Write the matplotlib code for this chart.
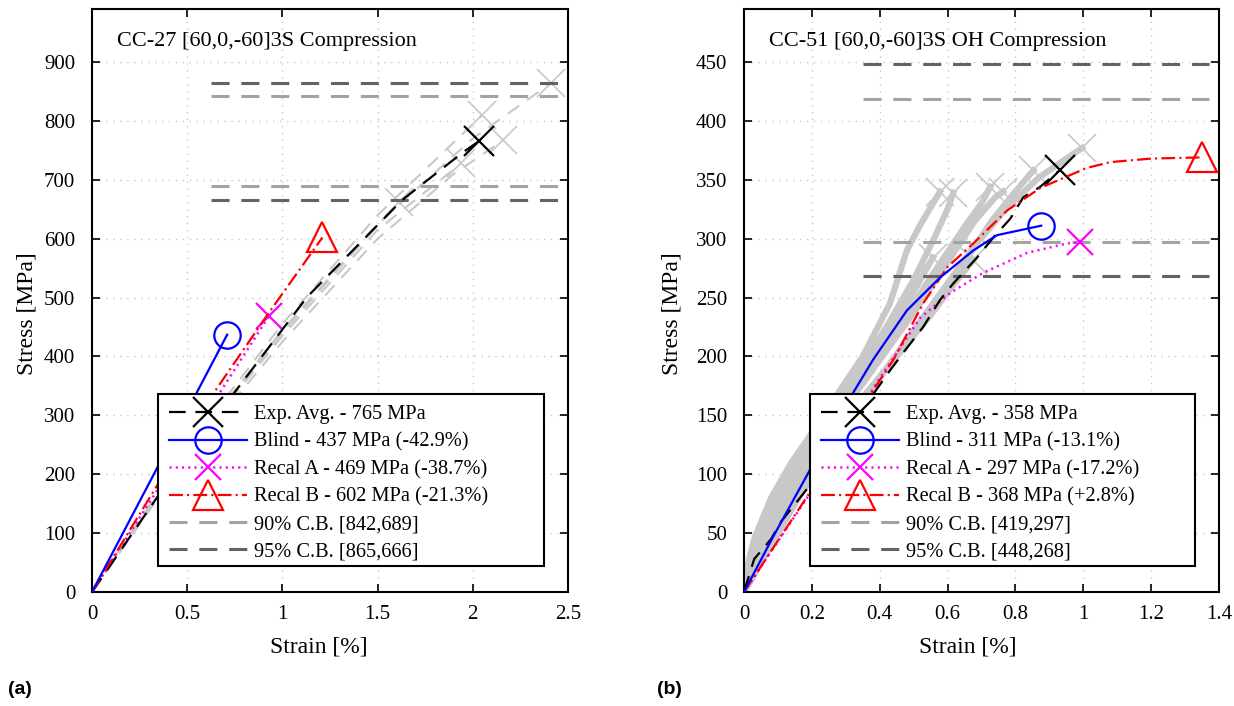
import matplotlib
matplotlib.use("Agg")
import matplotlib.pyplot as plt
from matplotlib.patches import Rectangle

plt.rcParams['font.family'] = ['Liberation Serif', 'DejaVu Serif']
plt.rcParams['font.size'] = 15
plt.rcParams['lines.scale_dashes'] = False

# ---------------- Panel (a) data: CC-27 ----------------
a_title = "CC-27 [60,0,-60]3S Compression"
a_exp_x = [0, 0.5, 0.73, 1.13, 1.63, 1.95, 2.03]
a_exp_y = [0, 235, 331, 501, 666, 747, 765]
a_blind_x = [0, 0.71]
a_blind_y = [0, 437]
a_recA_x = [0, 0.93]
a_recA_y = [0, 469]
a_recB_x = [0, 0.35, 0.65, 0.92, 1.21]
a_recB_y = [0, 185, 343, 470, 602]
a_spec_x = [
    [0, 0.5, 1.0, 1.3, 1.61],
    [0, 0.5, 1.0, 1.5, 1.94],
    [0, 0.5, 1.0, 1.5, 2.05],
    [0, 0.5, 1.0, 1.5, 1.9, 2.16],
    [0, 0.5, 1.0, 1.5, 2.0, 2.41],
]
a_spec_y = [
    [0, 240, 440, 550, 662],
    [0, 235, 435, 615, 728],
    [0, 245, 455, 640, 810],
    [0, 230, 425, 600, 710, 767],
    [0, 240, 445, 625, 770, 864],
]
a_cb90 = [842, 689]
a_cb95 = [865, 666]
a_labels = ["Exp. Avg. - 765 MPa", "Blind - 437 MPa (-42.9%)",
            "Recal A - 469 MPa (-38.7%)", "Recal B - 602 MPa (-21.3%)",
            "90% C.B. [842,689]", "95% C.B. [865,666]"]
a_xlim = (0, 2.5)
a_ylim = (0, 990)
a_xticks = [0, 0.5, 1, 1.5, 2, 2.5]
a_xticklabels = ["0", "0.5", "1", "1.5", "2", "2.5"]
a_yticks = [0, 100, 200, 300, 400, 500, 600, 700, 800, 900]

# ---------------- Panel (b) data: CC-51 ----------------
b_title = "CC-51 [60,0,-60]3S OH Compression"
b_exp_x = [0, 0.03, 0.08, 0.11, 0.19, 0.3, 0.43, 0.469, 0.528, 0.578, 0.617,
           0.687, 0.735, 0.785, 0.823, 0.873, 0.93]
b_exp_y = [0, 28, 45, 60, 89, 135, 188, 203, 225, 248, 262,
           284, 301, 317, 335, 344, 358]
b_blind_x = [0, 0.086, 0.195, 0.313, 0.38, 0.48, 0.578, 0.676, 0.746, 0.876]
b_blind_y = [0, 47, 104, 165, 197, 239, 267, 290, 303, 311]
b_recA_x = [0, 0.186, 0.39, 0.52, 0.608, 0.705, 0.835, 0.953, 0.99]
b_recA_y = [0, 80, 177, 233, 254, 271, 288, 296, 297]
b_recB_x = [0, 0.186, 0.38, 0.44, 0.528, 0.6, 0.676, 0.776, 0.873, 1.01, 1.08, 1.2, 1.35]
b_recB_y = [0, 81, 171, 197, 245, 276, 296, 324, 343, 360, 365, 368, 369]
b_spec_x = [
    [0, 0.01, 0.03, 0.08, 0.14, 0.2, 0.28, 0.35, 0.43, 0.48, 0.52, 0.578],
    [0, 0.04, 0.1, 0.17, 0.25, 0.33, 0.42, 0.5, 0.56, 0.6, 0.617],
    [0, 0.05, 0.12, 0.2, 0.3, 0.4, 0.5, 0.58, 0.65, 0.7, 0.726],
    [0, 0.06, 0.13, 0.22, 0.32, 0.42, 0.52, 0.6, 0.68, 0.74, 0.764],
    [0, 0.07, 0.15, 0.25, 0.35, 0.45, 0.55, 0.65, 0.73, 0.8, 0.853],
    [0, 0.08, 0.16, 0.26, 0.37, 0.47, 0.57, 0.67, 0.77, 0.87, 0.95, 0.997],
    [0, 0.05, 0.12, 0.2, 0.3, 0.4, 0.48, 0.557],
    [0, 0.07, 0.15, 0.25, 0.35, 0.45, 0.55, 0.62, 0.676],
]
b_spec_y = [
    [0, 22, 45, 80, 110, 135, 170, 200, 245, 290, 312, 340],
    [0, 40, 80, 115, 150, 185, 225, 265, 300, 325, 339],
    [0, 35, 80, 120, 165, 205, 245, 280, 310, 330, 344],
    [0, 35, 75, 120, 165, 205, 245, 280, 315, 335, 340],
    [0, 35, 75, 125, 165, 200, 240, 280, 315, 340, 358],
    [0, 40, 80, 125, 170, 210, 250, 290, 325, 352, 368, 377],
    [0, 40, 85, 125, 170, 210, 245, 284],
    [0, 40, 80, 125, 165, 200, 235, 262, 282],
]
b_cb90 = [419, 297]
b_cb95 = [448, 268]
b_labels = ["Exp. Avg. - 358 MPa", "Blind - 311 MPa (-13.1%)",
            "Recal A - 297 MPa (-17.2%)", "Recal B - 368 MPa (+2.8%)",
            "90% C.B. [419,297]", "95% C.B. [448,268]"]
b_xlim = (0, 1.4)
b_ylim = (0, 495)
b_xticks = [0, 0.2, 0.4, 0.6, 0.8, 1.0, 1.2, 1.4]
b_xticklabels = ["0", "0.2", "0.4", "0.6", "0.8", "1", "1.2", "1.4"]
b_yticks = [0, 50, 100, 150, 200, 250, 300, 350, 400, 450]

SPEC_C = '#c8c8c8'
CB90_C = '#a3a3a3'
CB95_C = '#636363'
BLACK_D = (0, (12, 7))
SPEC_D = (0, (10, 7))
CB_D = (0, (13, 8.5))
RED_D = (0, (10, 3, 1.5, 3))
MAG_D = (0, (1.5, 3))


def draw(ax, title, ex, ey, bx, by, ax_, ay_, rx, ry, sx, sy, cb90, cb95,
         labels, xlim, ylim, xticks, xticklabels, yticks, spec_solid,
         ylab_x, xlab_x):
    x0 = xlim[1] * 0.25
    x1 = xlim[1] * 0.98
    for xs, ys in zip(sx, sy):
        if spec_solid:
            ax.plot(xs, ys, color=SPEC_C, lw=4.5, solid_joinstyle='round', zorder=2)
        else:
            ax.plot(xs, ys, color=SPEC_C, lw=1.5, linestyle=SPEC_D, zorder=2)
        ax.plot(xs[-1], ys[-1], marker='x', color=SPEC_C, ms=20, mew=1.2, zorder=2)
    h_cb90, = ax.plot([x0, x1], [cb90[0]] * 2, color=CB90_C, lw=2.2, linestyle=CB_D, zorder=3)
    ax.plot([x0, x1], [cb90[1]] * 2, color=CB90_C, lw=2.2, linestyle=CB_D, zorder=3)
    h_cb95, = ax.plot([x0, x1], [cb95[0]] * 2, color=CB95_C, lw=2.2, linestyle=CB_D, zorder=3)
    ax.plot([x0, x1], [cb95[1]] * 2, color=CB95_C, lw=2.2, linestyle=CB_D, zorder=3)

    h_exp, = ax.plot(ex, ey, color='black', lw=1.6, linestyle=BLACK_D,
                     marker='x', ms=21, mew=1.6, markevery=[len(ex) - 1], zorder=5)
    h_recA, = ax.plot(ax_, ay_, color='magenta', lw=1.8, linestyle=MAG_D,
                      marker='x', ms=19, mew=1.6, markevery=[len(ax_) - 1], zorder=4)
    h_recB, = ax.plot(rx, ry, color='red', lw=1.6, linestyle=RED_D,
                      marker='^', ms=21, mew=1.6, mfc='none', markevery=[len(rx) - 1], zorder=5)
    h_blind, = ax.plot(bx, by, color='blue', lw=1.6, linestyle='-',
                       marker='o', ms=19, mew=1.6, mfc='none', markevery=[len(bx) - 1], zorder=6)

    ax.set_xlim(*xlim)
    ax.set_ylim(*ylim)
    ax.set_xticks(xticks)
    ax.set_xticklabels(xticklabels)
    ax.set_yticks(yticks)
    ax.grid(True, color='#c8c8c8', lw=1.0, linestyle=(0, (1, 4)))
    ax.tick_params(direction='in', top=True, right=True, length=6, width=1.2,
                   labelsize=15)
    ax.tick_params(axis='x', pad=9)
    ax.tick_params(axis='y', pad=12)
    for s in ax.spines.values():
        s.set_linewidth(1.5)
    ax.set_xlabel("Strain [%]", fontsize=17)
    ax.set_ylabel("Stress [MPa]", fontsize=17)
    ax.xaxis.set_label_coords(xlab_x, -0.077)
    ax.yaxis.set_label_coords(ylab_x, 0.477)
    ax.text(0.052, 0.945, title, transform=ax.transAxes, fontsize=16,
            ha='left', va='center')

    box = Rectangle((0.139, 0.045), 0.811, 0.295, transform=ax.transAxes,
                    facecolor='white', edgecolor='black', lw=1.5, zorder=9)
    ax.add_patch(box)
    leg = ax.legend([h_exp, h_blind, h_recA, h_recB, h_cb90, h_cb95], labels,
                    loc='upper left', bbox_to_anchor=(0.139, 0.045, 0.811, 0.295),
                    mode='expand', borderaxespad=0, numpoints=1,
                    handlelength=3.8, handletextpad=0.35, labelspacing=0.40,
                    borderpad=0.55, frameon=False, fontsize=14.7)
    leg.set_zorder(10)


fig = plt.figure(figsize=(12.34, 7.06), dpi=100)
axA = fig.add_axes([0.07455, 0.16147, 0.38574, 0.8258])
axB = fig.add_axes([0.60292, 0.16147, 0.3849, 0.8258])

draw(axA, a_title, a_exp_x, a_exp_y, a_blind_x, a_blind_y, a_recA_x, a_recA_y,
     a_recB_x, a_recB_y, a_spec_x, a_spec_y, a_cb90, a_cb95, a_labels,
     a_xlim, a_ylim, a_xticks, a_xticklabels, a_yticks, False, -0.114, 0.477)
draw(axB, b_title, b_exp_x, b_exp_y, b_blind_x, b_blind_y, b_recA_x, b_recA_y,
     b_recB_x, b_recB_y, b_spec_x, b_spec_y, b_cb90, b_cb95, b_labels,
     b_xlim, b_ylim, b_xticks, b_xticklabels, b_yticks, True, -0.130, 0.472)

fig.text(8 / 1234, 1 - 690 / 706, "(a)", family=['Liberation Sans', 'DejaVu Sans'],
         fontweight='bold', fontsize=14, ha='left', va='center')
fig.text(657 / 1234, 1 - 690 / 706, "(b)", family=['Liberation Sans', 'DejaVu Sans'],
         fontweight='bold', fontsize=14, ha='left', va='center')

fig.savefig("out.png", dpi=100)
